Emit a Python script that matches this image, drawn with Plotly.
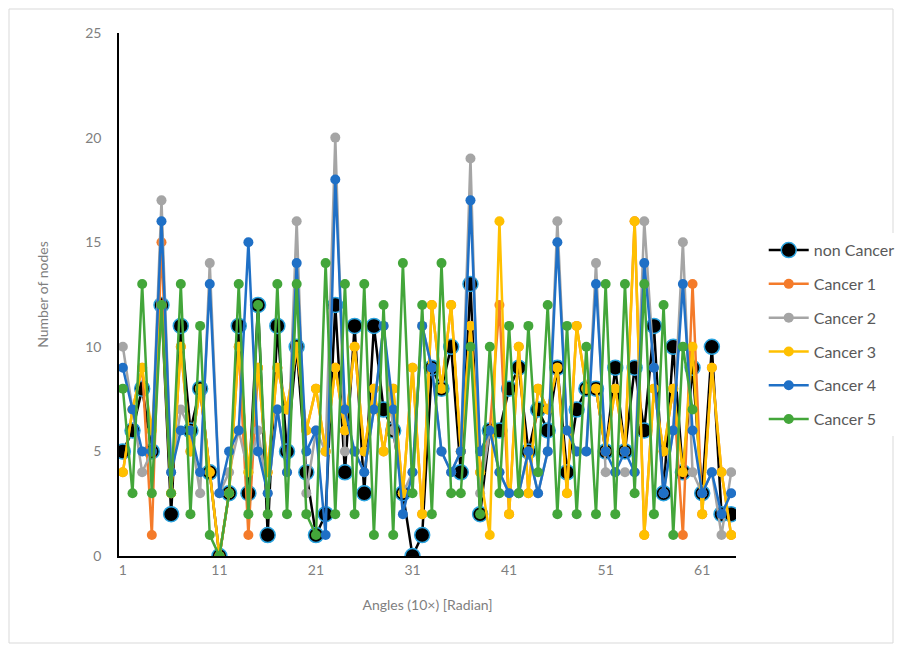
import plotly.graph_objects as go

angles = list(range(1, 65))
non_cancer = [5,6,8,5,12,2,11,6,8,4,0,3,11,3,12,1,11,5,10,4,1,2,12,4,11,3,11,7,6,3,0,1,9,8,10,4,13,2,6,6,8,9,5,7,6,9,4,7,8,8,5,9,5,9,6,11,3,10,4,9,3,10,2,2]
cancer1 = [4,7,9,1,15,3,10,5,8,4,0,3,10,1,9,4,9,7,10,6,8,5,9,6,10,5,8,5,8,3,9,2,12,8,12,5,11,4,6,12,2,10,3,8,7,9,3,11,8,8,5,8,5,16,1,8,5,8,1,13,2,9,4,1]
cancer2 = [10,7,4,5,17,4,7,6,3,14,3,4,6,4,6,3,7,4,16,3,6,5,20,5,5,4,7,11,6,3,4,11,9,5,4,5,19,3,6,4,3,3,5,3,5,16,6,5,5,14,4,4,4,4,16,9,3,6,15,4,3,4,1,4]
cancer3 = [4,7,9,6,12,3,10,5,8,4,0,3,10,4,9,4,9,7,10,6,8,5,9,6,10,5,8,5,8,3,9,2,12,8,12,5,11,4,1,16,2,10,3,8,7,9,3,11,8,8,5,8,5,16,1,8,5,8,4,10,2,9,4,1]
cancer4 = [9,7,5,5,16,4,6,6,4,13,3,5,6,15,5,3,7,4,14,5,6,1,18,7,5,4,7,11,7,2,4,11,9,5,4,5,17,5,6,4,3,3,5,3,5,15,6,5,5,13,5,4,5,4,14,9,3,6,13,6,3,4,2,3]
cancer5 = [8,3,13,3,12,3,13,2,11,1,0,3,13,2,12,2,13,2,13,2,1,14,2,13,2,13,1,12,1,14,3,12,2,14,3,3,10,2,10,3,11,3,11,4,12,2,11,2,10,2,13,2,13,3,13,2,12,1,10,7,None,None,None,None]

x_ticks = [1, 11, 21, 31, 41, 51, 61]
y_ticks = [0, 5, 10, 15, 20, 25]

font_family = "Lato, 'Open Sans', sans-serif"
tick_color = "#7f7f7f"

# page has an 8px body margin; figure placed at (8, 8)
fig = go.Figure()
fig.add_trace(go.Scatter(
    x=angles, y=non_cancer, name="non Cancer", mode="lines+markers",
    line=dict(color="black", width=2.5),
    marker=dict(color="black", size=15, line=dict(color="#2aa3df", width=1.5)),
    legendgroup="g0",
))
series = [
    ("Cancer 1", cancer1, "#f47b2a"),
    ("Cancer 2", cancer2, "#a5a5a5"),
    ("Cancer 3", cancer3, "#ffc000"),
    ("Cancer 4", cancer4, "#1f70c6"),
    ("Cancer 5", cancer5, "#43a63a"),
]
for k, (name, vals, col) in enumerate(series):
    fig.add_trace(go.Scatter(
        x=angles, y=vals, name=name, mode="lines+markers",
        line=dict(color=col, width=2.5),
        marker=dict(color=col, size=10),
        legendgroup="g%d" % (k + 1),
    ))

fig.update_layout(
    width=887, height=636,
    margin=dict(l=111, r=159, t=25, b=88),
    paper_bgcolor="white", plot_bgcolor="white",
    font=dict(family=font_family, size=14, color=tick_color),
    showlegend=True,
    legend=dict(
        xref="container", yref="container",
        x=0.852, y=0.646, xanchor="left", yanchor="top",
        font=dict(size=16, color="#595959"),
        tracegroupgap=10, traceorder="grouped",
        itemwidth=40,
    ),
    xaxis=dict(
        range=[0.6, 64.5], tickmode="array", tickvals=x_ticks,
        ticktext=[str(v) for v in x_ticks],
        showgrid=False, zeroline=False, automargin=False,
        showline=True, linecolor="black", linewidth=1.5,
        ticks="", tickfont=dict(size=14, color=tick_color),
        title=dict(text="Angles (10×) [Radian]", font=dict(size=14, color=tick_color), standoff=24),
    ),
    yaxis=dict(
        range=[0, 25], tickmode="array", tickvals=y_ticks,
        showgrid=False, zeroline=False, automargin=False,
        showline=True, linecolor="black", linewidth=1.5,
        ticks="outside", ticklen=13, tickcolor="rgba(0,0,0,0)",
        tickfont=dict(size=14, color=tick_color),
        title=dict(text="Number of nodes", font=dict(size=14, color=tick_color), standoff=33),
    ),
)

fig.add_shape(type="rect", xref="paper", yref="paper",
              x0=(9 - 119) / 617, x1=(893 - 119) / 617,
              y0=(556 - 643) / 523, y1=(556 - 9) / 523,
              line=dict(color="#d9d9d9", width=1), layer="below")

fig.write_html("out.html")
